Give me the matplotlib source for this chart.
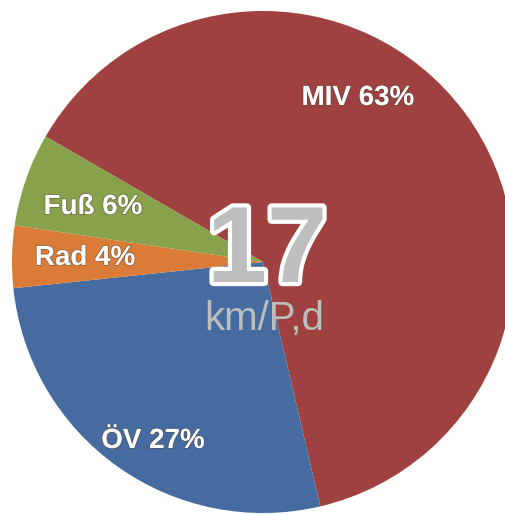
import matplotlib
matplotlib.use("Agg")
import matplotlib.pyplot as plt
import matplotlib.patheffects as pe

categories = ["MIV", "ÖV", "Rad", "Fuß"]
shares = [63, 27, 4, 6]
colors = ["#A04141", "#456BA0", "#DA7C37", "#88A24B"]
total_value = "17"
total_unit = "km/P,d"

W, H = 506, 515
fig = plt.figure(figsize=(W / 100, H / 100), dpi=100)
ax = fig.add_axes([0, 0, 1, 1])

cx, cy, r = 263, 262, 251
wedges, _ = ax.pie(shares, colors=colors, startangle=-150, counterclock=True,
                   center=(cx, cy), radius=r, frame=True,
                   wedgeprops=dict(linewidth=0))
ax.set_xlim(0, W)
ax.set_ylim(H, 0)
ax.axis("off")

label_pos = {"MIV": (358, 98), "ÖV": (153, 441), "Rad": (85, 258), "Fuß": (93, 207)}
for cat, val in zip(categories, shares):
    x, y = label_pos[cat]
    ax.text(x, y, f"{cat} {val}%", color="white", fontsize=20, fontweight="bold",
            family="Liberation Sans", ha="center", va="center",
            path_effects=[pe.withStroke(linewidth=1.2, foreground=(0.3, 0.25, 0.2, 0.5))])

ax.text(267, 282, total_value, color="#BEBEBE", fontsize=78, fontweight="bold",
        family="Liberation Sans", ha="center", va="baseline",
        path_effects=[pe.withStroke(linewidth=6, foreground="white")])
ax.text(264, 330, total_unit, color="#BDBDBD", fontsize=29,
        family="Liberation Sans", ha="center", va="baseline")

fig.savefig("out.png", dpi=100)
